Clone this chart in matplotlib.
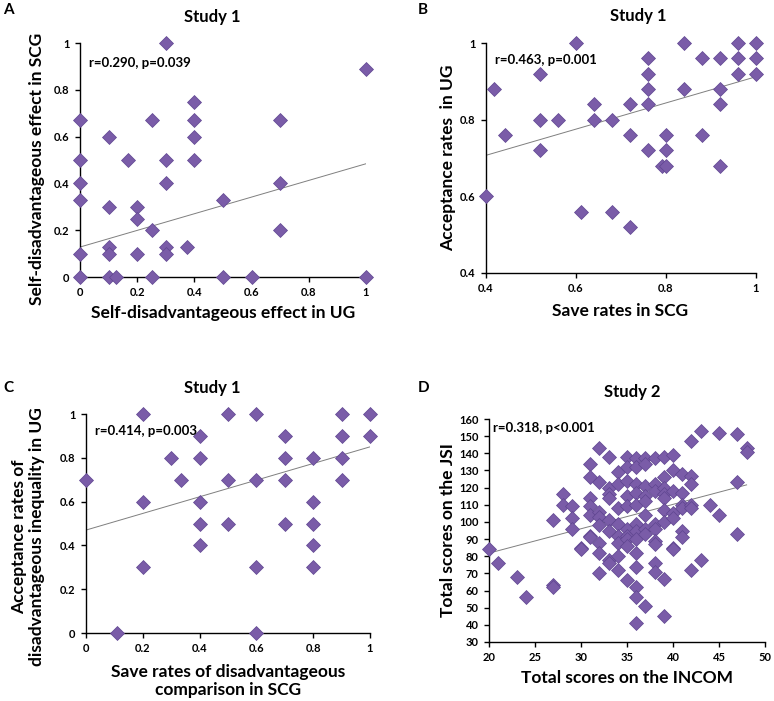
import numpy as np
import matplotlib
matplotlib.use("Agg")
import matplotlib.pyplot as plt

plt.rcParams['font.family'] = ['Lato', 'DejaVu Sans']
plt.rcParams['font.weight'] = 'bold'

W, H = 774, 701

# ---------------- Data ----------------
# Panel A
a_x = [0, 0, 0, 0, 0, 0, 0.1, 0.1, 0.1, 0.1, 0.1, 0.125, 0.167, 0.2, 0.2, 0.2,
       0.25, 0.25, 0.25, 0.3, 0.3, 0.3, 0.3, 0.3, 0.375, 0.4, 0.4, 0.4, 0.4,
       0.5, 0.5, 0.6, 0.7, 0.7, 0.7, 1.0, 1.0]
a_y = [0.67, 0.5, 0.4, 0.33, 0.1, 0, 0.6, 0.3, 0.13, 0.1, 0, 0, 0.5, 0.3, 0.25, 0.1,
       0.67, 0.2, 0, 1.0, 0.5, 0.4, 0.13, 0.1, 0.13, 0.75, 0.67, 0.6, 0.5,
       0.33, 0, 0, 0.67, 0.4, 0.2, 0.89, 0]
a_trend_x = [0, 1]
a_trend_y = [0.128, 0.484]

# Panel B
b_x = [0.4, 0.417, 0.443, 0.52, 0.52, 0.52, 0.56, 0.6, 0.61, 0.64, 0.64, 0.68, 0.68,
       0.72, 0.72, 0.72, 0.76, 0.76, 0.76, 0.76, 0.76, 0.79, 0.8, 0.8, 0.8,
       0.84, 0.84, 0.88, 0.88, 0.92, 0.92, 0.92, 0.92, 0.96, 0.96, 0.96,
       1.0, 1.0, 1.0]
b_y = [0.6, 0.88, 0.76, 0.92, 0.8, 0.72, 0.8, 1.0, 0.56, 0.84, 0.8, 0.8, 0.56,
       0.84, 0.76, 0.52, 0.96, 0.92, 0.88, 0.84, 0.72, 0.68, 0.76, 0.72, 0.68,
       1.0, 0.88, 0.96, 0.76, 0.96, 0.88, 0.84, 0.68, 1.0, 0.96, 0.92,
       1.0, 0.96, 0.92]
b_trend_x = [0.4, 1]
b_trend_y = [0.707, 0.912]

# Panel C
c_x = [0, 0.11, 0.2, 0.2, 0.2, 0.3, 0.333, 0.4, 0.4, 0.4, 0.4, 0.4, 0.5, 0.5, 0.5,
       0.6, 0.6, 0.6, 0.6, 0.7, 0.7, 0.7, 0.7, 0.8, 0.8, 0.8, 0.8, 0.8,
       0.9, 0.9, 0.9, 0.9, 1.0, 1.0]
c_y = [0.7, 0, 1.0, 0.6, 0.3, 0.8, 0.7, 0.9, 0.8, 0.6, 0.5, 0.4, 1.0, 0.7, 0.5,
       1.0, 0.7, 0.3, 0, 0.9, 0.8, 0.7, 0.5, 0.8, 0.6, 0.5, 0.4, 0.3,
       1.0, 0.9, 0.8, 0.7, 1.0, 0.9]
c_trend_x = [0, 1]
c_trend_y = [0.47, 0.85]

# Panel D
d_x = [20, 21, 23, 24, 27, 27, 27, 28, 28, 29, 29, 29, 30, 30,
       31, 31, 31, 31, 31, 31, 31,
       32, 32, 32, 32, 32, 32, 32, 32,
       33, 33, 33, 33, 33, 33, 33, 33,
       34, 34, 34, 34, 34, 34, 34, 34,
       35, 35, 35, 35, 35, 35, 35, 35, 35, 35,
       36, 36, 36, 36, 36, 36, 36, 36, 36, 36, 36, 36, 36,
       37, 37, 37, 37, 37, 37, 37, 37, 37,
       38, 38, 38, 38, 38, 38, 38, 38, 38,
       39, 39, 39, 39, 39, 39, 39, 39, 39,
       40, 40, 40, 40, 40, 40, 40,
       41, 41, 41, 41, 41, 41,
       42, 42, 42, 42, 42, 42,
       43, 43, 44, 45, 45, 47, 47, 47, 48, 48]
d_y = [84, 76, 68, 56, 101, 63, 62, 116, 110, 109, 102, 96, 85, 84,
       134, 126, 114, 109, 104, 92, 91,
       143, 123, 106, 103, 98, 88, 82, 70,
       138, 120, 116, 114, 101, 95, 78, 76,
       129, 122, 108, 99, 92, 88, 80, 72,
       138, 132, 124, 115, 109, 96, 92, 90, 86, 66,
       137, 132, 122, 117, 110, 99, 95, 90, 82, 74, 62, 56, 41,
       137, 134, 121, 115, 112, 104, 96, 93, 51,
       137, 122, 118, 99, 96, 89, 87, 76, 71,
       138, 126, 120, 116, 114, 107, 100, 67, 45,
       139, 130, 118, 105, 102, 85, 84,
       128, 117, 110, 108, 95, 91,
       147, 127, 122, 110, 108, 72,
       153, 78, 110, 152, 104, 151, 123, 93, 143, 141]
d_trend_x = [20, 48]
d_trend_y = [81.8, 121.6]

titles = ["Study 1", "Study 1", "Study 1", "Study 2"]
letters = ["A", "B", "C", "D"]
stats = ["r=0.290, p=0.039", "r=0.463, p=0.001", "r=0.414, p=0.003", "r=0.318, p<0.001"]
xlabels = ["Self-disadvantageous effect in UG", "Save rates in SCG",
           "Save rates of disadvantageous\ncomparison in SCG", "Total scores on the INCOM"]
ylabels = ["Self-disadvantageous effect in SCG", "Acceptance rates  in UG",
           "Acceptance rates of\ndisadvantageous inequality in UG", "Total scores on the JSI"]
xticks = [[0, 0.2, 0.4, 0.6, 0.8, 1], [0.4, 0.6, 0.8, 1],
          [0, 0.2, 0.4, 0.6, 0.8, 1], [20, 25, 30, 35, 40, 45, 50]]
yticks = [[0, 0.2, 0.4, 0.6, 0.8, 1], [0.4, 0.6, 0.8, 1],
          [0, 0.2, 0.4, 0.6, 0.8, 1], list(range(30, 161, 10))]

# ---------------- Layout (pixels) ----------------
# (left, right, top, bottom) of each plot area
boxes = [(80, 366, 43, 277), (486, 756, 43, 273), (86, 370, 414, 633), (489, 765, 419, 642)]
title_pos = [(212, 17), (638, 16), (212, 388), (632, 392)]
letter_pos = [(3, 10), (418, 10), (3, 388), (418, 388)]
stat_pos = [(89, 63), (495, 60), (95, 431), (493, 428)]
xlabel_pos = [(223, 313), (620, 311), (228, 681), (627, 678)]
ylabel_pos = [(37, 169), (448, 158), (28, 537), (448, 530)]

fig = plt.figure(figsize=(W / 100, H / 100), dpi=100)
fig.patch.set_facecolor('white')

def fx(px):
    return px / W

def fy(py):
    return 1 - py / H

data = [(a_x, a_y, a_trend_x, a_trend_y), (b_x, b_y, b_trend_x, b_trend_y),
        (c_x, c_y, c_trend_x, c_trend_y), (d_x, d_y, d_trend_x, d_trend_y)]

purple = '#7A5CA8'
for i, (xs, ys, tx, ty) in enumerate(data):
    l, r, t, b = boxes[i]
    ax = fig.add_axes([fx(l), fy(b), (r - l) / W, (b - t) / H])
    ax.plot(tx, ty, color='#7f7f7f', lw=0.7, zorder=2)
    ax.plot(xs, ys, linestyle='none', marker='D', markersize=6.8,
            markerfacecolor=purple, markeredgecolor='#5f4590', markeredgewidth=0.5,
            clip_on=False, zorder=3)
    ax.set_xlim(xticks[i][0], xticks[i][-1])
    ax.set_ylim(yticks[i][0], yticks[i][-1])
    ax.set_xticks(xticks[i])
    ax.set_yticks(yticks[i])
    ax.set_xticklabels([f"{v:g}" for v in xticks[i]])
    ax.set_yticklabels([f"{v:g}" for v in yticks[i]])
    for s in ['top', 'right']:
        ax.spines[s].set_visible(False)
    for s in ['left', 'bottom']:
        ax.spines[s].set_linewidth(1.0)
        ax.spines[s].set_color('black')
    ax.tick_params(direction='out', length=3.5, width=1.0, labelsize=8, pad=4)
    for lab in ax.get_xticklabels() + ax.get_yticklabels():
        lab.set_fontweight('bold')
    ax.patch.set_alpha(0)

    fig.text(fx(title_pos[i][0]), fy(title_pos[i][1]), titles[i], ha='center', va='center',
             fontsize=12, fontweight='bold')
    fig.text(fx(letter_pos[i][0]), fy(letter_pos[i][1]), letters[i], ha='left', va='center',
             fontsize=11, fontweight='bold')
    fig.text(fx(stat_pos[i][0]), fy(stat_pos[i][1]), stats[i], ha='left', va='center',
             fontsize=9.5, fontweight='bold')
    fig.text(fx(xlabel_pos[i][0]), fy(xlabel_pos[i][1]), xlabels[i], ha='center', va='center',
             fontsize=12.5, fontweight='bold', linespacing=1.15)
    fig.text(fx(ylabel_pos[i][0]), fy(ylabel_pos[i][1]), ylabels[i], ha='center', va='center',
             fontsize=12.5, fontweight='bold', rotation=90, linespacing=1.15)

fig.savefig('out.png', dpi=100, facecolor='white')
